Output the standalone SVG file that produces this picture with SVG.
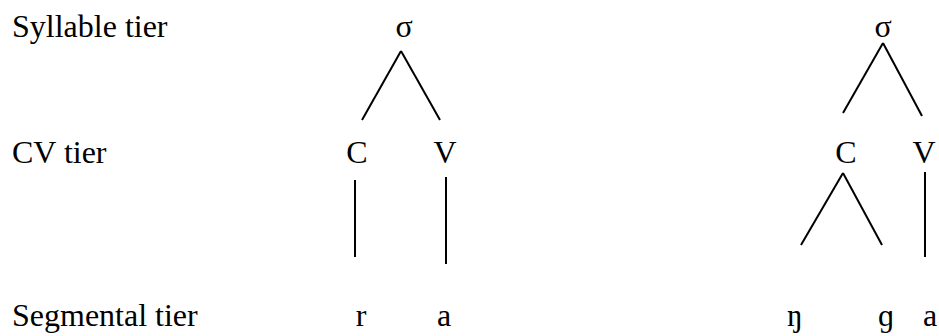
<svg xmlns="http://www.w3.org/2000/svg" width="939" height="336" viewBox="0 0 939 336" font-family="'Liberation Serif', 'Times New Roman', serif">
<style>
text { font-family: 'Liberation Serif', 'Times New Roman', serif; font-size: 32px; fill: #000; }
.n { text-anchor: middle; }
line { stroke: #000; stroke-width: 2; stroke-linecap: butt; }
</style>
<rect width="939" height="336" fill="#fff"/>
<g id="labels">
<text x="12" y="37">Syllable tier</text>
<text x="12" y="163">CV tier</text>
<text x="12" y="326">Segmental tier</text>
</g>
<g id="tree1-sigma"><text class="n" x="404" y="37">σ</text></g>
<g id="tree1-C"><text class="n" x="357" y="163">C</text></g>
<g id="tree1-V"><text class="n" x="445" y="163">V</text></g>
<g id="tree1-r"><text class="n" x="361" y="326">r</text></g>
<g id="tree1-a"><text class="n" x="444" y="326">a</text></g>
<g id="tree2-sigma"><text class="n" x="883" y="37">σ</text></g>
<g id="tree2-C"><text class="n" x="846" y="163">C</text></g>
<g id="tree2-V"><text class="n" x="924" y="163">V</text></g>
<g id="tree2-ng"><text class="n" x="795" y="326">ŋ</text></g>
<g id="tree2-g"><text class="n" x="886" y="326">ɡ</text></g>
<g id="tree2-a"><text class="n" x="930" y="326">a</text></g>
<g id="connectors">
<line x1="401" y1="51" x2="362" y2="120"/>
<line x1="401" y1="51" x2="440" y2="120"/>
<line x1="355" y1="180" x2="355" y2="257"/>
<line x1="446" y1="177" x2="446" y2="264"/>
<line x1="883" y1="43" x2="843" y2="113"/>
<line x1="883" y1="43" x2="922" y2="116"/>
<line x1="843" y1="173" x2="801" y2="245"/>
<line x1="843" y1="173" x2="882" y2="245"/>
<line x1="925" y1="172" x2="925" y2="257"/>
</g>
</svg>
